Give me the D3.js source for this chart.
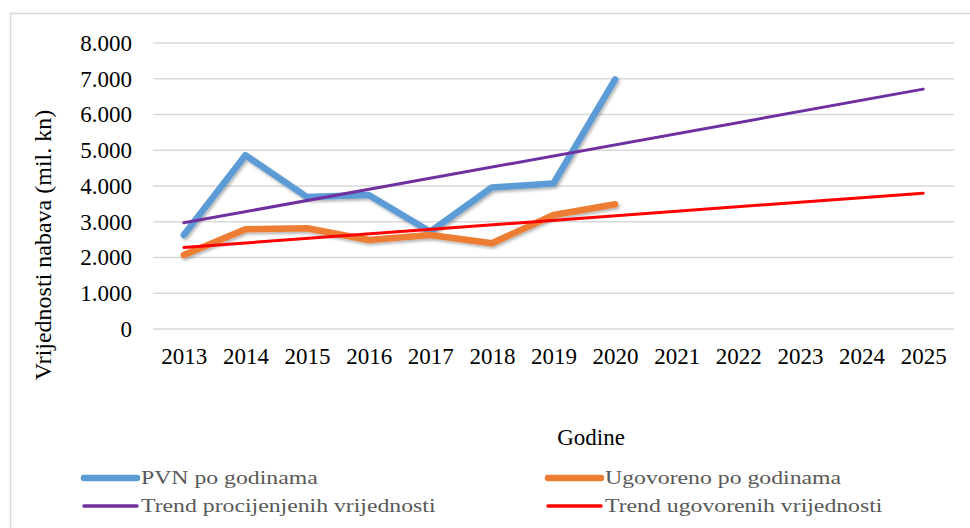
<script src="https://d3js.org/d3.v7.min.js"></script>
<style>
  body { margin: 0; background: #fff; }
  svg text { font-family: "Liberation Serif", "DejaVu Serif", serif !important; }
</style>
<div id="chart"></div>
<script>
  var years = ["2013","2014","2015","2016","2017","2018","2019","2020","2021","2022","2023","2024","2025"];
  var pvnYears = ["2013","2014","2015","2016","2017","2018","2019","2020"];
  var pvn = [2630, 4860, 3690, 3750, 2720, 3960, 4070, 6980];
  var ugovoreno = [2070, 2790, 2820, 2490, 2630, 2400, 3190, 3490];
  var trendYears = ["2013", "2025"];
  var trendPvn = [2970, 6710];
  var trendUgov = [2280, 3800];
  var yTicks = [0, 1000, 2000, 3000, 4000, 5000, 6000, 7000, 8000];

  var width = 970, height = 528;
  var mLeft = 153, mRight = 954, mTop = 43, mBottom = 329;
  var serif = "'Liberation Serif', 'DejaVu Serif', serif";

  var svg = d3.select("#chart").append("svg")
    .attr("width", width).attr("height", height);

  var defs = svg.append("defs");
  var f = defs.append("filter").attr("id", "shadow")
    .attr("x", "-10%").attr("y", "-10%").attr("width", "120%").attr("height", "130%");
  f.append("feDropShadow").attr("dx", 1.5).attr("dy", 2).attr("stdDeviation", 1.5)
    .attr("flood-color", "#000").attr("flood-opacity", 0.3);

  // chart border
  svg.append("rect")
    .attr("x", 10.5).attr("y", 13.5).attr("width", 980).attr("height", 540)
    .attr("fill", "none").attr("stroke", "#d9d9d9").attr("stroke-width", 1.5);

  var x = d3.scalePoint().domain(years).range([mLeft, mRight]).padding(0.5);
  var y = d3.scaleLinear().domain([0, 8000]).range([mBottom, mTop]);

  // gridlines
  svg.append("g").selectAll("line").data(yTicks).join("line")
    .attr("x1", mLeft).attr("x2", mRight)
    .attr("y1", function(d) { return y(d); }).attr("y2", function(d) { return y(d); })
    .attr("stroke", "#d9d9d9").attr("stroke-width", 1.5);

  var fmt = function(d) { return d === 0 ? "0" : d3.format(",")(d).replace(/,/g, "."); };

  var yAxis = svg.append("g").attr("transform", "translate(" + mLeft + ",0)")
    .call(d3.axisLeft(y).tickValues(yTicks).tickSize(0).tickPadding(21).tickFormat(fmt));
  yAxis.select(".domain").remove();
  yAxis.attr("font-family", null).attr("font-size", null);
  yAxis.selectAll("text").style("font-size", "23px").style("font-family", serif).attr("fill", "#000");

  var xAxis = svg.append("g").attr("transform", "translate(0," + mBottom + ")")
    .call(d3.axisBottom(x).tickSize(0).tickPadding(19));
  xAxis.select(".domain").remove();
  xAxis.attr("font-family", null).attr("font-size", null);
  xAxis.selectAll("text").style("font-size", "23px").style("font-family", serif).attr("fill", "#000");

  var line = d3.line()
    .x(function(d) { return x(d[0]); })
    .y(function(d) { return y(d[1]); });

  function draw(xs, vals, color, w, shadow) {
    var p = svg.append("path")
      .datum(d3.zip(xs, vals))
      .attr("d", line)
      .attr("fill", "none")
      .attr("stroke", color)
      .attr("stroke-width", w)
      .attr("stroke-linejoin", "round")
      .attr("stroke-linecap", "round");
    if (shadow) p.attr("filter", "url(#shadow)");
  }

  draw(pvnYears, pvn, "#5b9bd5", 6.5, true);
  draw(pvnYears, ugovoreno, "#ed7d31", 6.5, true);
  draw(trendYears, trendPvn, "#7030a0", 3, false);
  draw(trendYears, trendUgov, "#ff0000", 3, false);

  // axis titles
  svg.append("text")
    .attr("transform", "translate(51,245) rotate(-90)")
    .attr("text-anchor", "middle").style("font-size", "24px").style("font-family", serif)
    .attr("fill", "#000")
    .text("Vrijednosti nabava (mil. kn)");
  svg.append("text")
    .attr("x", 591).attr("y", 445)
    .attr("text-anchor", "middle").style("font-size", "23px").style("font-family", serif)
    .attr("fill", "#000")
    .text("Godine");

  // legend
  var legend = [
    { name: "PVN po godinama", color: "#5b9bd5", w: 6.5, x: 82, y: 484 },
    { name: "Ugovoreno po godinama", color: "#ed7d31", w: 6.5, x: 546, y: 484 },
    { name: "Trend procijenjenih vrijednosti", color: "#7030a0", w: 3.5, x: 82, y: 512 },
    { name: "Trend ugovorenih vrijednosti", color: "#ff0000", w: 3.5, x: 546, y: 512 }
  ];
  var lg = svg.append("g").selectAll("g").data(legend).join("g")
    .attr("transform", function(d) { return "translate(" + d.x + "," + d.y + ")"; });
  lg.append("line").attr("x1", 2).attr("x2", 55).attr("y1", -6).attr("y2", -6)
    .attr("stroke", function(d) { return d.color; })
    .attr("stroke-width", function(d) { return d.w; })
    .attr("stroke-linecap", "round");
  lg.append("text")
    .attr("transform", "translate(59,0) scale(1.25,1)")
    .style("font-size", "19px").style("font-family", serif).attr("fill", "#595959")
    .text(function(d) { return d.name; });
</script>
